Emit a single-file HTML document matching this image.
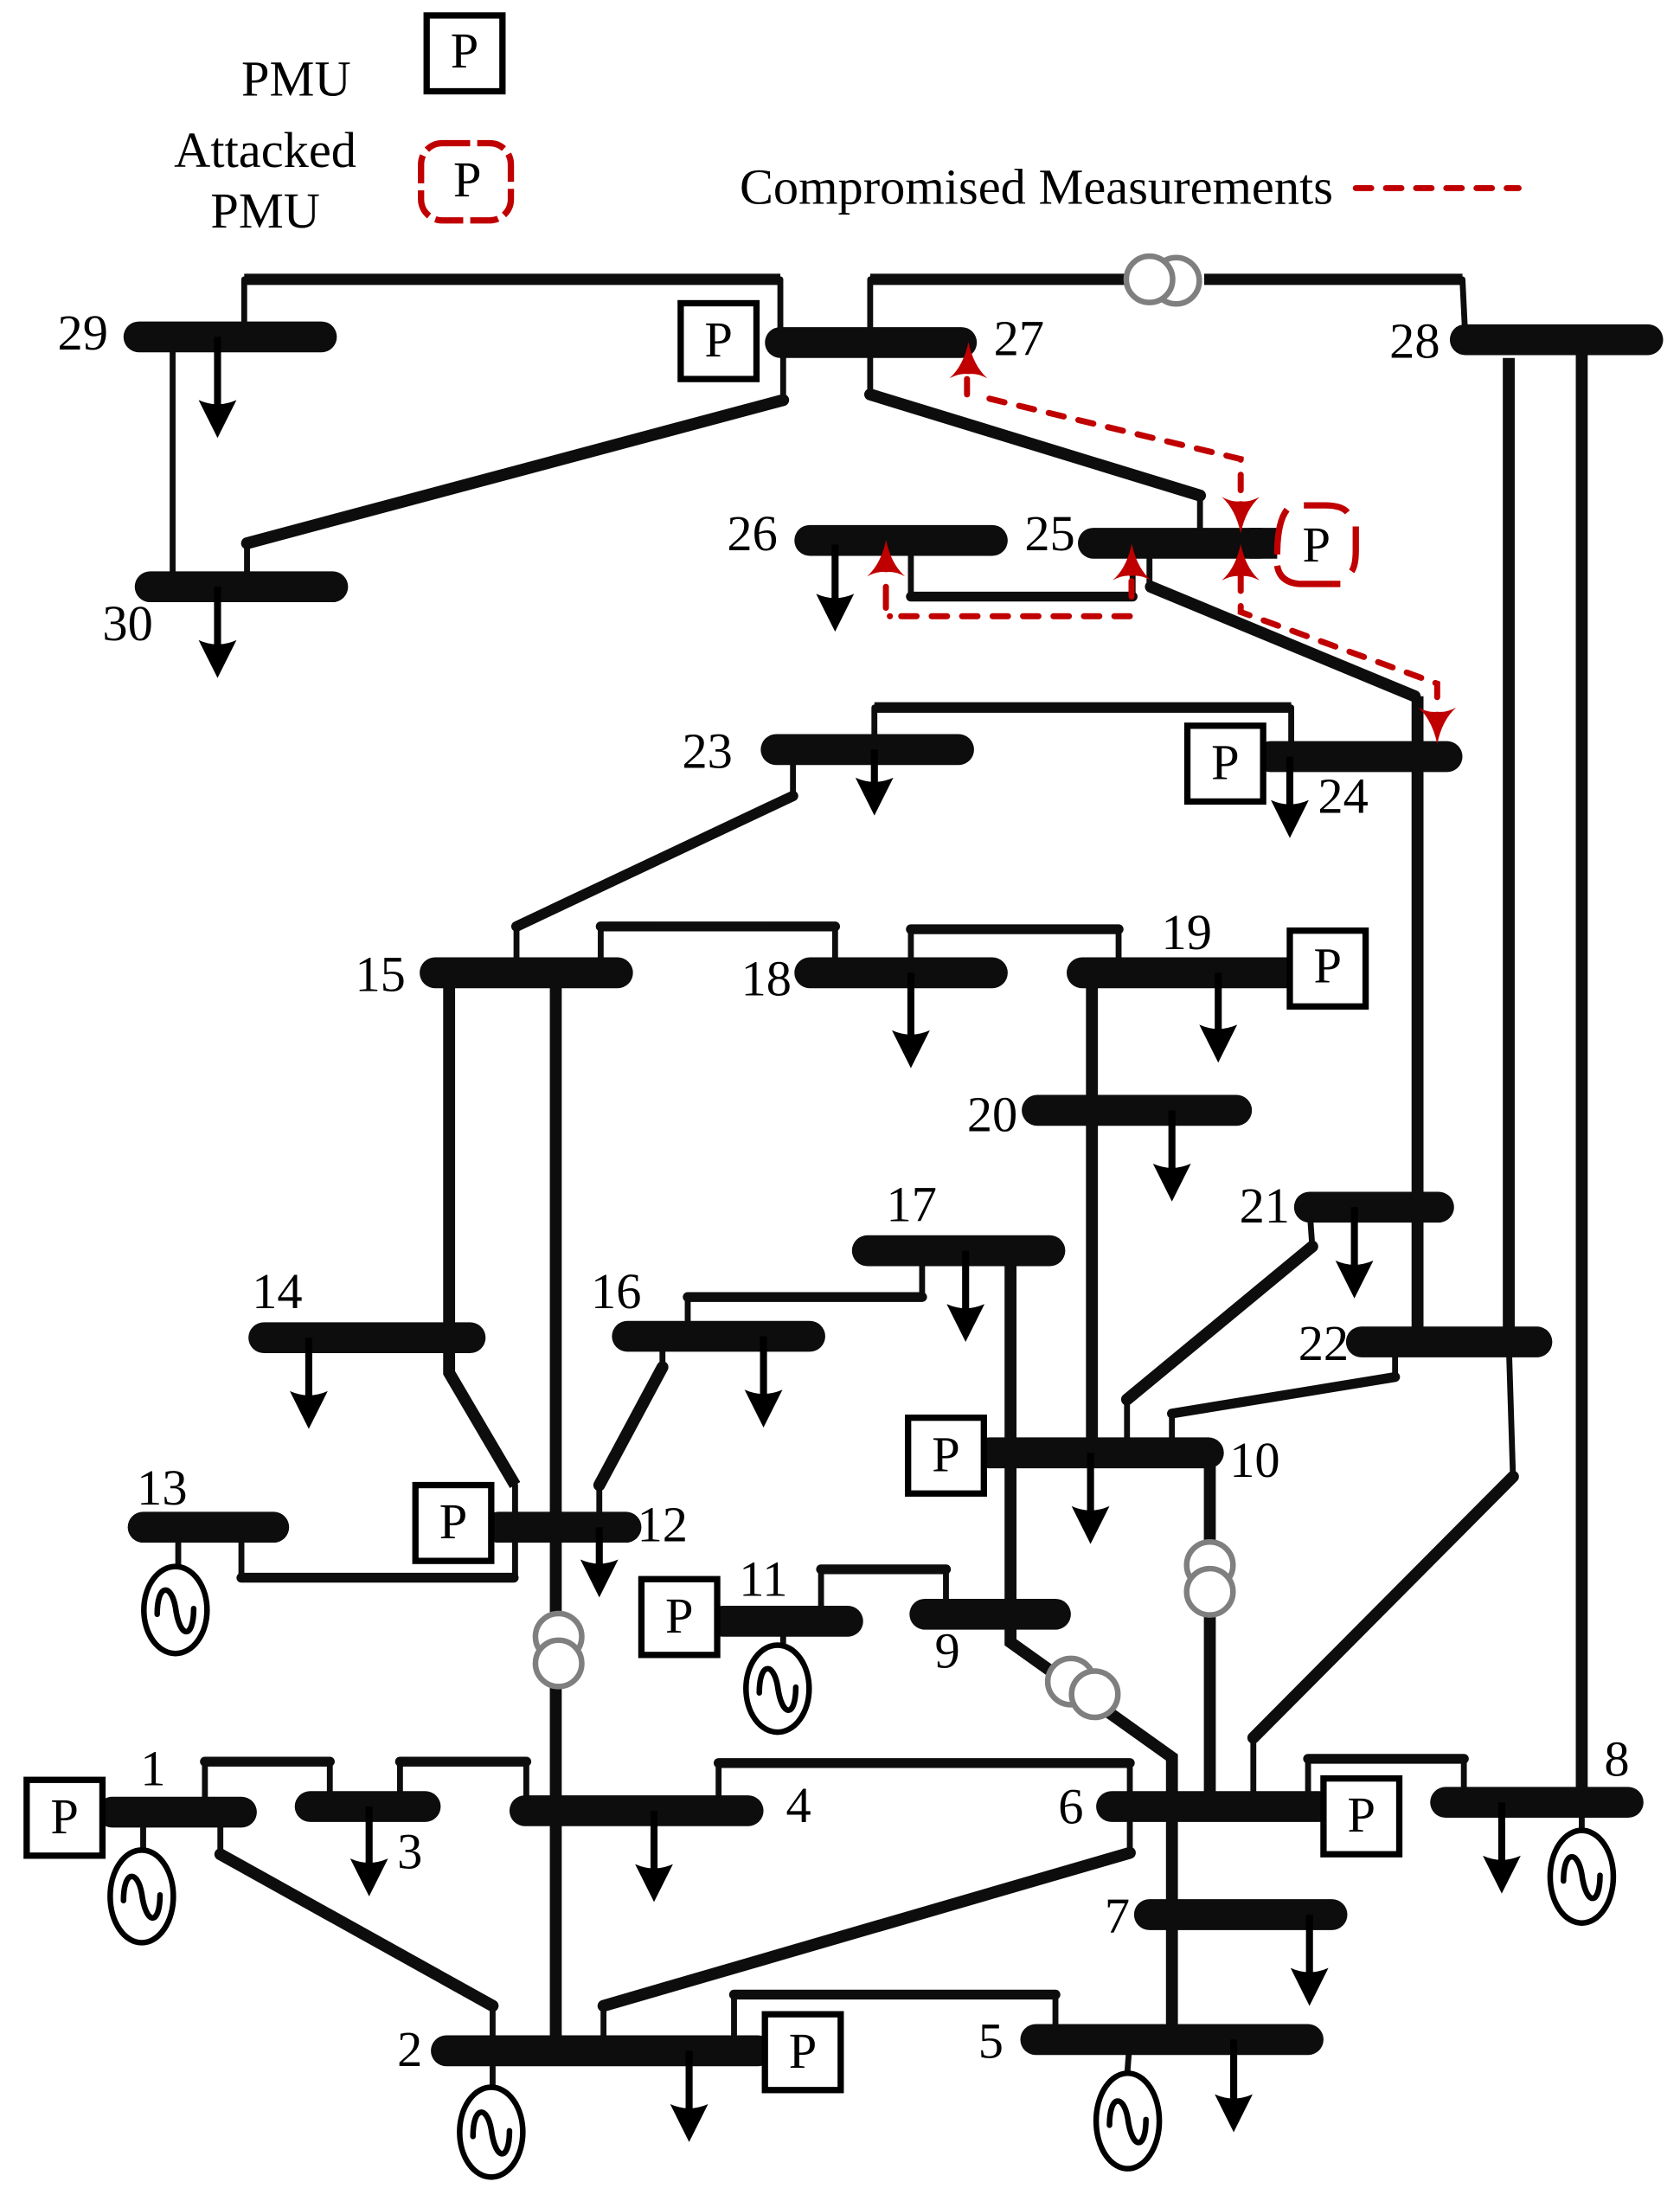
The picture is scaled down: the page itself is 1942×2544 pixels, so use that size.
<!DOCTYPE html>
<html><head><meta charset="utf-8"><style>
html,body{margin:0;padding:0;background:#fff}
svg{display:block}
text{font-family:"Liberation Serif",serif;font-size:36px;fill:#000}
</style></head><body>
<svg xmlns="http://www.w3.org/2000/svg" width="1942" height="2544" viewBox="0 0 1197 1568">
<defs>
<path id="h" d="M-13.5,-27 Q0,-21 13.5,-27 L0,0 Z" fill="#000"/>
<path id="r" d="M0,0 Q-3.5,17 -13.5,26 Q-6,22 0,23 Q6,22 13.5,26 Q3.5,17 0,0 Z" fill="#c00000"/>
</defs>
<rect width="1197" height="1568" fill="#fff"/>
<!-- buses -->
<g stroke="#0d0d0d" stroke-width="22" stroke-linecap="round" fill="none">
<path d="M99,240H229M556,244H685M1044,242H1174M577,385H707M779,387H898M107,418H237M553,534H683M905,539H1031M310,693H440M577,693H707M771,693H920M739,791H881M933,860H1025M618,891H748M188,953H335M447,952H577M970,956H1095M705,1035H861M102,1088H195M355,1088H446M515,1155H604M659,1150H752M80,1291H172M221,1287H303M374,1290H533M792,1287H940M1030,1284H1160M819,1364H949M738,1453H932M318,1461H540"/>
</g>
<path d="M890,376H910V398H890Z" fill="#0d0d0d"/>
<!-- thick lines -->
<g stroke="#0d0d0d" fill="none" stroke-linejoin="miter">
<g stroke-width="8.5">
<path d="M174,199H556" stroke-width="8"/>
<path d="M620,199H804M858,199H1042" stroke-width="8"/>
<path d="M558,285L176,387" stroke-linecap="round"/>
<path d="M620,281L855,353" stroke-linecap="round"/>
<path d="M820,418L1008,496" stroke-linecap="round"/>
<path d="M1010,496V956"/>
<path d="M1075,255V956"/>
<path d="M1078,1052L893,1238" stroke-linecap="round"/>
<path d="M1127,250V1284"/>
<path d="M623,504H920" stroke-width="7.5"/>
<path d="M565,567L368,660" stroke-width="7.5" stroke-linecap="round"/>
<path d="M320,693V978L367,1058"/>
<path d="M396,693V1290M396,1290V1461"/>
<path d="M778,693V1035"/>
<path d="M935,888L803,997" stroke-linecap="round"/>
<path d="M994,981L835,1007" stroke-width="7" stroke-linecap="round"/>
<path d="M472,974L427,1058" stroke-linecap="round"/>
<path d="M720,891V1170L835,1252V1453"/>
<path d="M862,1035V1287"/>
<path d="M805,1320L430,1429" stroke-linecap="round"/>
<path d="M157,1321L351,1429" stroke-linecap="round"/>
</g>
<g stroke-width="7" stroke-linecap="round">
<path d="M649,425H807"/>
<path d="M428,660H595"/>
<path d="M649,662H797"/>
<path d="M657,924H490"/>
<path d="M172,1124H366"/>
<path d="M585,1118H674"/>
<path d="M146,1255H235"/>
<path d="M285,1255H375"/>
<path d="M512,1256H805"/>
<path d="M523,1421H752"/>
<path d="M932,1253H1043"/>
</g>
<g stroke-width="4.2" stroke-linecap="round">
<path d="M174,199V235M556,199V240M558,245V285M620,199V281M1042,199L1044,240"/>
<path d="M123,250V415"/>
<path d="M176,387V420M855,353V386M649,395V425M807,395V425M819,392V418"/>
<path d="M1008,496L1010,540M1075,956L1078,1052M893,1238V1282"/>
<path d="M623,504V530M920,504V530"/>
<path d="M565,534V567M368,660V693M428,660V693M595,660V693M649,662V693M797,662V695"/>
<path d="M933,860L935,888M803,997V1030M994,956V981M835,1007V1040"/>
<path d="M657,891V924M490,924V955M472,945V974M320,948V978"/>
<path d="M367,1058V1124M427,1058V1088"/>
<path d="M172,1090V1124M127,1090V1116"/>
<path d="M585,1155V1118M674,1118V1150M558,1150V1172"/>
<path d="M146,1291V1255M235,1255V1287M285,1287V1255M375,1255V1290M157,1285V1321"/>
<path d="M512,1290V1256M805,1256V1320M430,1429V1465M351,1429V1490"/>
<path d="M523,1461V1421M752,1421V1453"/>
<path d="M932,1287V1253M1043,1253V1284"/>
<path d="M102,1291V1320M1127,1284V1307M805,1453L803,1480"/>
</g>
</g>
<!-- loads -->
<g stroke="#000" stroke-width="5" fill="none">
<path d="M155,240V290M155,418V460M595,388V428M623,534V560M919,539V575M649,693V740M868,693V735M835,791V835M965,860V905M688,891V935M220,953V997M544,952V996M427,1088V1115M777,1035V1080M466,1290V1335M263,1287V1330M491,1461V1505M1070,1284V1328M933,1364V1408M879,1453V1497"/>
</g>
<use href="#h" x="155" y="312"/><use href="#h" x="155" y="483"/><use href="#h" x="595" y="450"/><use href="#h" x="623" y="581"/><use href="#h" x="919" y="597"/><use href="#h" x="649" y="761"/><use href="#h" x="868" y="757"/><use href="#h" x="835" y="856"/><use href="#h" x="965" y="925"/><use href="#h" x="688" y="956"/><use href="#h" x="220" y="1018"/><use href="#h" x="544" y="1017"/><use href="#h" x="427" y="1138"/><use href="#h" x="777" y="1100"/><use href="#h" x="466" y="1355"/><use href="#h" x="263" y="1351"/><use href="#h" x="491" y="1526"/><use href="#h" x="1070" y="1349"/><use href="#h" x="933" y="1429"/><use href="#h" x="879" y="1519"/>
<!-- transformers -->
<g fill="#fff" stroke="#7f7f7f" stroke-width="4">
<circle cx="838" cy="200" r="16.5"/><circle cx="819" cy="199" r="16.5"/>
<circle cx="398" cy="1166" r="16.5"/><circle cx="398" cy="1185" r="16.5"/>
<circle cx="862" cy="1115" r="16.5"/><circle cx="862" cy="1134" r="16.5"/>
<circle cx="763" cy="1198" r="16.5"/><circle cx="780" cy="1207" r="16.5"/>
</g>
<!-- generators -->
<g fill="#fff" stroke="#000" stroke-width="4">
<ellipse cx="125" cy="1147" rx="22.5" ry="31"/>
<ellipse cx="554" cy="1203" rx="22.5" ry="31"/>
<ellipse cx="101" cy="1351" rx="22.5" ry="33"/>
<ellipse cx="1127" cy="1337" rx="22.5" ry="33"/>
<ellipse cx="350" cy="1519" rx="22.5" ry="32"/>
<ellipse cx="803.5" cy="1511" rx="22.5" ry="34"/>
</g>
<g fill="none" stroke="#000" stroke-width="4" stroke-linecap="round">
<path d="M112,1150C112,1128 122,1128 125,1145C128,1168 138,1168 138,1146"/>
<path d="M541,1206C541,1184 551,1184 554,1201C557,1224 567,1224 567,1202"/>
<path d="M88,1354C88,1332 98,1332 101,1349C104,1372 114,1372 114,1350"/>
<path d="M1114,1340C1114,1318 1124,1318 1127,1335C1130,1358 1140,1358 1140,1336"/>
<path d="M337,1522C337,1500 347,1500 350,1517C353,1540 363,1540 363,1518"/>
<path d="M790.5,1514C790.5,1492 800.5,1492 803.5,1509C806.5,1532 816.5,1532 816.5,1510"/>
</g>
<!-- PMU boxes -->
<g fill="#fff" stroke="#000" stroke-width="4.5">
<rect x="304" y="11" width="54" height="54"/>
<rect x="485" y="216" width="54" height="54"/>
<rect x="846" y="517" width="54" height="54"/>
<rect x="919" y="663" width="54" height="54"/>
<rect x="647" y="1010" width="54" height="54"/>
<rect x="296" y="1058" width="54" height="54"/>
<rect x="457" y="1125" width="54" height="54"/>
<rect x="19" y="1268" width="54" height="54"/>
<rect x="943" y="1267" width="54" height="54"/>
<rect x="545" y="1435" width="54" height="54"/>
</g>
<!-- attacked PMU -->
<g fill="none" stroke="#c00000" stroke-width="4.5">
<rect x="300" y="102" width="64" height="55" rx="15" stroke-dasharray="20 5"/>
<path d="M917,363Q910,372 910,395M910,403Q912,415 926,416H955M963,407Q966,403 966,392V375M960,365Q956,360 944,360H929"/>
</g>
<!-- red dashed -->
<g fill="none" stroke="#c00000" stroke-width="4.3" stroke-linecap="round">
<path d="M966,134H1082" stroke-dasharray="11 10.5"/>
<path d="M689,270V281" />
<path d="M705,284L884,327V372" stroke-dasharray="11 10.7"/>
<path d="M884,410V436L1024,487V505" stroke-dasharray="11 10.7"/>
<path d="M806.2,414V434M805,439H640" stroke-dasharray="11 10.7"/>
<path d="M631.2,418V433M634,439H634.1"/>
</g>
<use href="#r" transform="translate(690,243.5)"/>
<use href="#r" transform="translate(884,380) rotate(180)"/>
<use href="#r" transform="translate(884,387.5)"/>
<use href="#r" transform="translate(1024,530) rotate(180)"/>
<use href="#r" transform="translate(631.3,384.6)"/>
<use href="#r" transform="translate(806.4,387.3)"/>
<!-- labels -->
<g text-anchor="middle">
<text x="331" y="48">P</text><text x="333" y="140">P</text>
<text x="512" y="254">P</text><text x="873" y="555">P</text><text x="946" y="700">P</text>
<text x="674" y="1048">P</text><text x="323" y="1096">P</text><text x="484" y="1163">P</text>
<text x="46" y="1306">P</text><text x="970" y="1305">P</text><text x="572" y="1473">P</text>
<text x="938" y="400">P</text>
</g>
<text x="172" y="68">PMU</text>
<text x="124" y="119">Attacked</text>
<text x="150" y="162">PMU</text>
<text x="527" y="145">Compromised Measurements</text>
<text x="41" y="249">29</text><text x="708" y="253">27</text><text x="990" y="255">28</text>
<text x="518" y="392">26</text><text x="730" y="392">25</text><text x="73" y="456">30</text>
<text x="486" y="547">23</text><text x="939" y="579">24</text><text x="253" y="706">15</text>
<text x="528" y="709">18</text><text x="827.5" y="676">19</text><text x="689" y="806">20</text>
<text x="883" y="871">21</text><text x="631.5" y="870">17</text><text x="179.5" y="932">14</text>
<text x="421" y="932">16</text><text x="925" y="969">22</text><text x="876" y="1052">10</text>
<text x="97.5" y="1072">13</text><text x="454" y="1098">12</text><text x="526.5" y="1137">11</text>
<text x="666" y="1188">9</text><text x="100" y="1272">1</text><text x="283" y="1331">3</text>
<text x="560" y="1298">4</text><text x="754" y="1299">6</text><text x="1143" y="1265">8</text>
<text x="787" y="1377">7</text><text x="697" y="1466">5</text><text x="283" y="1472">2</text>
</svg>
</body></html>
